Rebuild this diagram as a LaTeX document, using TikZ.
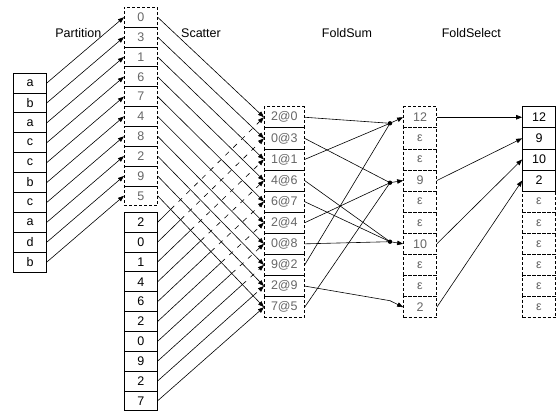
\documentclass[tikz,border=0pt]{standalone}
\usepackage{fontspec}
\setmainfont{Liberation Sans}
\usetikzlibrary{arrows.meta}
\begin{document}
\begin{tikzpicture}[x=1pt,y=-1pt,
  font=\fontsize{12.5}{14}\selectfont,
  box/.style={line width=0.7pt, inner sep=0pt, minimum width=33pt, minimum height=19.84pt, anchor=center},
  solidcell/.style={box, draw=black, text=black},
  dashcell/.style={box, draw=black, text=black!60, dash pattern=on 3pt off 2pt},
  widecell/.style={minimum width=40pt, minimum height=21.1pt},
  tallcell/.style={minimum height=21.1pt},
  conn/.style={line width=0.6pt, draw=black},
  arr/.style={conn, -{Triangle[length=6pt,width=4.5pt]}},
  lbl/.style={anchor=base, text=black}
]
\useasboundingbox (0,0) rectangle (556,414);

% labels
\node[lbl] (tpart) at (78.3,37.3) {Partition};
\node[lbl] (tscat) at (201,37.3) {Scatter};
\node[lbl] (tfsum) at (347,37.3) {FoldSum};
\node[lbl] (tfsel) at (471.3,37.3) {FoldSelect};

% input keys
\foreach \t [count=\i from 0] in {a,b,a,c,c,b,c,a,d,b}
  \node[solidcell] (l\i) at (30,{73+19.9*(\i+0.5)}) {\t};
% partition indices
\foreach \t [count=\i from 0] in {0,3,1,6,7,4,8,2,9,5}
  \node[dashcell] (m\i) at (140.8,{7.3+19.84*(\i+0.5)}) {\t};
% values
\foreach \t [count=\i from 0] in {2,0,1,4,6,2,0,9,2,7}
  \node[solidcell] (v\i) at (140.8,{212.3+19.84*(\i+0.5)}) {\t};
% scatter
\foreach \t [count=\i from 0] in {2@0,0@3,1@1,4@6,6@7,2@4,0@8,9@2,2@9,7@5}
  \node[dashcell,widecell] (s\i) at (284.3,{106.7+21.1*(\i+0.5)}) {\t};
% fold sum
\foreach \t [count=\i from 0] in {12,ε,ε,9,ε,ε,10,ε,ε,2}
  \node[dashcell,tallcell] (f\i) at (420,{106.7+21.1*(\i+0.5)}) {\t};
% fold select
\foreach \t [count=\i from 0] in {12,9,10,2}
  \node[solidcell,tallcell] (r\i) at (539,{106.7+21.1*(\i+0.5)}) {\t};
\foreach \i in {4,...,9}
  \node[dashcell,tallcell] (r\i) at (539,{106.7+21.1*(\i+0.5)}) {ε};

% partition arrows
\foreach \i in {0,...,9}
  \draw[arr] (l\i.east) -- (m\i.west);
% scatter arrows from indices
\foreach \i in {0,...,9}
  \draw[arr] (m\i.east) -- (s\i.west);
% scatter arrows from values (dashed behind)
\foreach \i in {0,...,8}{
  \coordinate (x\i) at (intersection of v\i.east--s\i.west and m9.east--s9.west);
  \draw[conn] (v\i.east) -- (x\i);
  \draw[arr, dash pattern=on 5pt off 6pt] (x\i) -- (s\i.west);
}
\draw[arr] (v9.east) -- (s9.west);

% fold sum junctions
\coordinate (dA) at (390,123.3);
\coordinate (dB) at (390,182.7);
\coordinate (dC) at (390,241.7);
\coordinate (dD) at (390,300.7);
\foreach \i in {0,2,7} \draw[conn] (s\i.east) -- (dA);
\foreach \i in {1,5,9} \draw[conn] (s\i.east) -- (dB);
\foreach \i in {3,4,6} \draw[conn] (s\i.east) -- (dC);
\draw[conn] (s8.east) -- (dD);
\draw[arr] (dA) -- (f0.west);
\draw[arr] (dB) -- (f3.west);
\draw[arr] (dC) -- (f6.west);
\draw[arr] (dD) -- (f9.west);
\foreach \d in {dA,dB,dC} \fill (\d) circle (2.2pt);

% fold select
\draw[arr] (f0.east) -- (r0.west);
\draw[arr] (f3.east) -- (r1.west);
\draw[arr] (f6.east) -- (r2.west);
\draw[arr] (f9.east) -- (r3.west);
\end{tikzpicture}
\end{document}
